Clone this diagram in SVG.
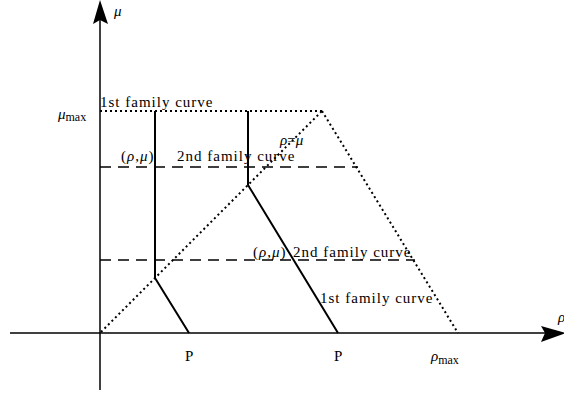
<svg xmlns="http://www.w3.org/2000/svg" width="564" height="394" viewBox="0 0 564 394">
<style>
text{font-family:"Liberation Serif","Times New Roman",serif;font-size:15px;fill:#000}
.l{letter-spacing:1px}
.g{font-style:italic}
.s{font-size:12px;font-style:normal}
.solid{stroke:#000;stroke-width:2;fill:none}
.axis{stroke:#000;stroke-width:1.5;fill:none}
.dot{stroke:#000;stroke-width:2;fill:none;stroke-dasharray:2,3}
.dash{stroke:#000;stroke-width:1.5;fill:none;stroke-dasharray:11,7}
</style>
<rect width="564" height="394" fill="#fff"/>
<g id="connectors">
<line class="axis" x1="100" y1="390" x2="100" y2="18"/>
<line class="axis" x1="10" y1="333" x2="548" y2="333"/>
<polygon points="100,0 93,24 100,20 108,24" fill="#000"/>
<polygon points="566,333 541,326 545,333 541,342" fill="#000"/>
<line class="dot" x1="100" y1="111" x2="322" y2="111"/>
<line class="dot" x1="322" y1="111" x2="458" y2="333"/>
<line class="dot" x1="101" y1="332" x2="322" y2="111"/>
<line class="dash" x1="100" y1="167" x2="358" y2="167"/>
<line class="dash" x1="100" y1="260" x2="415" y2="260"/>
<polyline class="solid" points="155,111 155,278 189,333"/>
<polyline class="solid" points="248,111 248,185 338,333"/>
</g>
<g id="labels">
<text x="114" y="16" class="g">μ</text>
<text x="58" y="119" class="g">μ<tspan class="s" dy="2">max</tspan></text>
<text x="100" y="107" class="l">1st family curve</text>
<text x="121" y="161" class="l">(<tspan class="g">ρ</tspan>,<tspan class="g">μ</tspan>)</text>
<text x="177" y="161" class="l">2nd family curve</text>
<text x="280" y="145"><tspan class="g">ρ</tspan>=<tspan class="g">μ</tspan></text>
<text x="253" y="257" class="l">(<tspan class="g">ρ</tspan>,<tspan class="g">μ</tspan>)</text>
<text x="293" y="257" class="l">2nd family curve</text>
<text x="320" y="303" class="l">1st family curve</text>
<text x="185" y="361">P</text>
<text x="334" y="361">P</text>
<text x="431" y="361" class="g">ρ<tspan class="s" dy="3">max</tspan></text>
<text x="558" y="322" class="g">ρ</text>
</g>
</svg>
